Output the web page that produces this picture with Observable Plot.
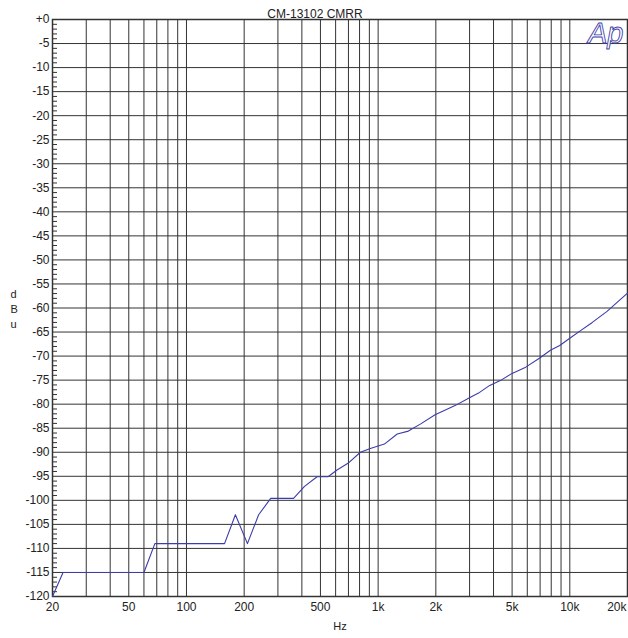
<!DOCTYPE html>
<html><head><meta charset="utf-8">
<script src="https://cdn.jsdelivr.net/npm/d3@7"></script>
<script src="https://cdn.jsdelivr.net/npm/@observablehq/plot@0.6"></script>
<style>body{margin:0;background:#fff}</style>
</head><body><div id="chart"></div>
<script>
const freq = [20, 22.7, 60, 68.4, 158, 180, 208, 238, 275, 362, 413, 480, 548, 610, 696, 808, 910, 1078, 1258, 1438, 1668, 1982, 2520, 2980, 3340, 3820, 4340, 5000, 5890, 6970, 7920, 8860, 10080, 11380, 13100, 15640, 20000];
const dbu = [-120, -115, -115, -109, -109, -103, -109, -103, -99.6, -99.6, -97.1, -95.1, -95.1, -93.7, -92.3, -90.0, -89.2, -88.3, -86.2, -85.6, -84.1, -82.2, -80.3, -78.7, -77.7, -76.1, -75.1, -73.6, -72.3, -70.4, -68.8, -67.8, -66.2, -64.7, -63.0, -60.7, -56.9];
const xTickLabels = [20, 50, 100, 200, 500, 1000, 2000, 5000, 10000];
const xLastLabel = [20000];
const xGrid = [20,30,40,50,60,70,80,90,100,200,300,400,500,600,700,800,900,1000,2000,3000,4000,5000,6000,7000,8000,9000,10000,20000];
const yTicks = d3.range(0, -121, -5);
const yMinor = d3.range(0, -121, -1).filter(d => d % 5 !== 0);
const title = "CM-13102 CMRR";
const xLabel = "Hz";
const yLabel = "d\nB\nu";

const data = freq.map((f, i) => ({f, v: dbu[i]}));
const fmtHz = d => d >= 1000 ? (d / 1000) + "k" : String(d);

const chart = Plot.plot({
  width: 628, height: 638,
  marginLeft: 52, marginRight: 1, marginTop: 19, marginBottom: 42,
  x: {type: "log", domain: [20, 20000], axis: null},
  y: {domain: [-120, 0]},
  style: {fontFamily: "Liberation Sans, Arial, sans-serif", fontSize: "12px", background: "#fff", color: "#222"},
  marks: [
    Plot.ruleX(xGrid, {x: d => d, stroke: "#333", strokeWidth: 1}),
    Plot.ruleY(yTicks, {y: d => d, stroke: "#333", strokeWidth: 1}),
    Plot.axisY({ticks: yMinor, tickSize: 5, dx: 5, tickFormat: () => "", label: null, stroke: "#333"}),
    Plot.axisY({ticks: yTicks, tickSize: 0, tickPadding: 3, tickFormat: d => d === 0 ? "+0" : String(d), label: null, fontSize: 12}),
    Plot.text(xTickLabels, {x: d => d, frameAnchor: "bottom", dy: 14, text: fmtHz, fontSize: 12, fill: "#222"}),
    Plot.text(xLastLabel, {x: d => d, frameAnchor: "bottom", dy: 14, dx: -1, textAnchor: "end", text: fmtHz, fontSize: 12, fill: "#222"}),
    Plot.frame({stroke: "#333", strokeWidth: 1.5}),
    Plot.line(data, {x: "f", y: "v", stroke: "#3c3caa", strokeWidth: 1.1}),
    Plot.text([title], {frameAnchor: "top", dx: -25, dy: -10, fontSize: 12, fill: "#222"}),
    Plot.text([xLabel], {frameAnchor: "bottom", dy: 33, fontSize: 11, fill: "#222"}),
    Plot.text([yLabel], {frameAnchor: "left", dx: -42, fontSize: 11, lineHeight: 1.4, fill: "#222"}),
    Plot.text(["Ap"], {frameAnchor: "top-right", dx: -4, dy: 3, textAnchor: "end", lineAnchor: "top", fontSize: 29, fontStyle: "italic", fill: "white", stroke: "#3c3caa", strokeWidth: 0.9, paintOrder: "fill"})
  ]
});
document.getElementById("chart").appendChild(chart);
</script>
</body></html>
